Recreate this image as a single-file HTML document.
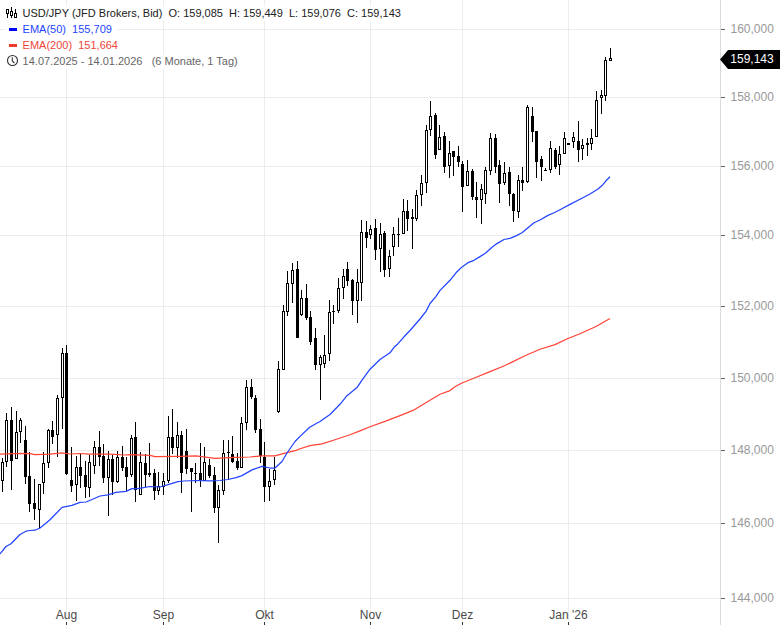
<!DOCTYPE html>
<html><head><meta charset="utf-8">
<style>
html,body{margin:0;padding:0;background:#fff;}
body{width:780px;height:625px;overflow:hidden;position:relative;font-family:"Liberation Sans",sans-serif;}
svg{position:absolute;left:0;top:0;}
.yl{font-size:12px;fill:#999;font-family:"Liberation Sans",sans-serif;}
.xl{font-size:12px;fill:#4a4a4a;font-family:"Liberation Sans",sans-serif;}
.pl{font-size:12px;fill:#fff;font-family:"Liberation Sans",sans-serif;}
.leg{position:absolute;left:5px;top:5px;font-size:11px;line-height:16px;}
.row{display:block;white-space:pre;background:rgba(255,255,255,0.85);float:left;clear:left;padding-left:17.6px;padding-right:6px;height:16px;}
.ic{display:inline-block;width:18px;height:16px;vertical-align:top;position:relative;}
.r1{color:#222;}
.r2{color:#2446ff;}
.r3{color:#f0463c;}
.r4{color:#666;}
</style></head>
<body>
<svg width="780" height="625" viewBox="0 0 780 625">
<rect x="0" y="29" width="720" height="1" fill="#ececec"/>
<rect x="0" y="97" width="720" height="1" fill="#ececec"/>
<rect x="0" y="166" width="720" height="1" fill="#ececec"/>
<rect x="0" y="235" width="720" height="1" fill="#ececec"/>
<rect x="0" y="306" width="720" height="1" fill="#ececec"/>
<rect x="0" y="378" width="720" height="1" fill="#ececec"/>
<rect x="0" y="450" width="720" height="1" fill="#ececec"/>
<rect x="0" y="523" width="720" height="1" fill="#ececec"/>
<rect x="0" y="598" width="720" height="1" fill="#ececec"/>
<rect x="66" y="0" width="1" height="621" fill="#ececec"/>
<rect x="163" y="0" width="1" height="621" fill="#ececec"/>
<rect x="264" y="0" width="1" height="621" fill="#ececec"/>
<rect x="370" y="0" width="1" height="621" fill="#ececec"/>
<rect x="462" y="0" width="1" height="621" fill="#ececec"/>
<rect x="568" y="0" width="1" height="621" fill="#ececec"/>
<rect x="720" y="0" width="1" height="625" fill="#dcdcdc"/>
<rect x="721" y="29" width="4" height="1" fill="#666"/>
<text x="730.5" y="33.3" class="yl">160,000</text>
<rect x="721" y="97" width="4" height="1" fill="#666"/>
<text x="730.5" y="101.3" class="yl">158,000</text>
<rect x="721" y="166" width="4" height="1" fill="#666"/>
<text x="730.5" y="170.3" class="yl">156,000</text>
<rect x="721" y="235" width="4" height="1" fill="#666"/>
<text x="730.5" y="239.3" class="yl">154,000</text>
<rect x="721" y="306" width="4" height="1" fill="#666"/>
<text x="730.5" y="310.3" class="yl">152,000</text>
<rect x="721" y="378" width="4" height="1" fill="#666"/>
<text x="730.5" y="382.3" class="yl">150,000</text>
<rect x="721" y="450" width="4" height="1" fill="#666"/>
<text x="730.5" y="454.3" class="yl">148,000</text>
<rect x="721" y="523" width="4" height="1" fill="#666"/>
<text x="730.5" y="527.3" class="yl">146,000</text>
<rect x="721" y="598" width="4" height="1" fill="#666"/>
<text x="730.5" y="602.3" class="yl">144,000</text>
<rect x="66" y="622" width="1" height="3" fill="#333"/>
<text x="66.5" y="619" class="xl" text-anchor="middle">Aug</text>
<rect x="163" y="622" width="1" height="3" fill="#333"/>
<text x="163.5" y="619" class="xl" text-anchor="middle">Sep</text>
<rect x="264" y="622" width="1" height="3" fill="#333"/>
<text x="264.5" y="619" class="xl" text-anchor="middle">Okt</text>
<rect x="370" y="622" width="1" height="3" fill="#333"/>
<text x="370.5" y="619" class="xl" text-anchor="middle">Nov</text>
<rect x="462" y="622" width="1" height="3" fill="#333"/>
<text x="462.5" y="619" class="xl" text-anchor="middle">Dez</text>
<rect x="568" y="622" width="1" height="3" fill="#333"/>
<text x="568.5" y="619" class="xl" text-anchor="middle">Jan '26</text>
<g fill="#000" shape-rendering="crispEdges"><rect x="2" y="458" width="1" height="34"/><rect x="1" y="462" width="3" height="19"/><rect x="2" y="463" width="1" height="17" fill="#fff"/><rect x="6" y="413" width="1" height="54"/><rect x="5" y="420" width="3" height="42"/><rect x="6" y="421" width="1" height="40" fill="#fff"/><rect x="11" y="407" width="1" height="83"/><rect x="10" y="420" width="3" height="41"/><rect x="16" y="411" width="1" height="48"/><rect x="15" y="432" width="3" height="27"/><rect x="16" y="433" width="1" height="25" fill="#fff"/><rect x="20" y="418" width="1" height="25"/><rect x="19" y="420" width="3" height="12"/><rect x="20" y="421" width="1" height="10" fill="#fff"/><rect x="25" y="426" width="1" height="58"/><rect x="24" y="440" width="3" height="37"/><rect x="29" y="452" width="1" height="60"/><rect x="28" y="476" width="3" height="28"/><rect x="34" y="479" width="1" height="41"/><rect x="33" y="503" width="3" height="6"/><rect x="39" y="484" width="1" height="44"/><rect x="38" y="484" width="3" height="26"/><rect x="39" y="485" width="1" height="24" fill="#fff"/><rect x="43" y="452" width="1" height="42"/><rect x="42" y="463" width="3" height="20"/><rect x="43" y="464" width="1" height="18" fill="#fff"/><rect x="48" y="429" width="1" height="39"/><rect x="47" y="430" width="3" height="33"/><rect x="48" y="431" width="1" height="31" fill="#fff"/><rect x="52" y="421" width="1" height="23"/><rect x="51" y="430" width="3" height="7"/><rect x="57" y="395" width="1" height="62"/><rect x="56" y="398" width="3" height="37"/><rect x="57" y="399" width="1" height="35" fill="#fff"/><rect x="62" y="348" width="1" height="81"/><rect x="61" y="353" width="3" height="45"/><rect x="62" y="354" width="1" height="43" fill="#fff"/><rect x="66" y="345" width="1" height="130"/><rect x="65" y="353" width="3" height="121"/><rect x="71" y="447" width="1" height="45"/><rect x="70" y="480" width="3" height="6"/><rect x="76" y="456" width="1" height="45"/><rect x="75" y="467" width="3" height="18"/><rect x="76" y="468" width="1" height="16" fill="#fff"/><rect x="80" y="454" width="1" height="34"/><rect x="79" y="467" width="3" height="9"/><rect x="85" y="461" width="1" height="37"/><rect x="84" y="475" width="3" height="12"/><rect x="89" y="455" width="1" height="42"/><rect x="88" y="462" width="3" height="26"/><rect x="89" y="463" width="1" height="24" fill="#fff"/><rect x="94" y="441" width="1" height="33"/><rect x="93" y="447" width="3" height="19"/><rect x="94" y="448" width="1" height="17" fill="#fff"/><rect x="99" y="431" width="1" height="35"/><rect x="98" y="447" width="3" height="10"/><rect x="103" y="444" width="1" height="39"/><rect x="102" y="456" width="3" height="22"/><rect x="108" y="451" width="1" height="65"/><rect x="107" y="459" width="3" height="19"/><rect x="108" y="460" width="1" height="17" fill="#fff"/><rect x="112" y="455" width="1" height="40"/><rect x="111" y="459" width="3" height="23"/><rect x="117" y="451" width="1" height="32"/><rect x="116" y="457" width="3" height="25"/><rect x="117" y="458" width="1" height="23" fill="#fff"/><rect x="122" y="446" width="1" height="25"/><rect x="121" y="457" width="3" height="11"/><rect x="126" y="457" width="1" height="34"/><rect x="125" y="467" width="3" height="10"/><rect x="131" y="435" width="1" height="42"/><rect x="130" y="438" width="3" height="37"/><rect x="131" y="439" width="1" height="35" fill="#fff"/><rect x="135" y="422" width="1" height="80"/><rect x="134" y="437" width="3" height="53"/><rect x="140" y="452" width="1" height="43"/><rect x="139" y="462" width="3" height="33"/><rect x="140" y="463" width="1" height="31" fill="#fff"/><rect x="145" y="454" width="1" height="33"/><rect x="144" y="463" width="3" height="12"/><rect x="149" y="443" width="1" height="34"/><rect x="148" y="473" width="3" height="2"/><rect x="154" y="469" width="1" height="31"/><rect x="153" y="473" width="3" height="18"/><rect x="158" y="472" width="1" height="23"/><rect x="157" y="486" width="3" height="5"/><rect x="158" y="487" width="1" height="3" fill="#fff"/><rect x="163" y="473" width="1" height="22"/><rect x="162" y="481" width="3" height="6"/><rect x="163" y="482" width="1" height="4" fill="#fff"/><rect x="168" y="416" width="1" height="67"/><rect x="167" y="437" width="3" height="44"/><rect x="168" y="438" width="1" height="42" fill="#fff"/><rect x="172" y="409" width="1" height="45"/><rect x="171" y="437" width="3" height="11"/><rect x="177" y="422" width="1" height="36"/><rect x="176" y="435" width="3" height="13"/><rect x="177" y="436" width="1" height="11" fill="#fff"/><rect x="181" y="431" width="1" height="62"/><rect x="180" y="435" width="3" height="38"/><rect x="186" y="429" width="1" height="45"/><rect x="185" y="451" width="3" height="18"/><rect x="191" y="468" width="1" height="44"/><rect x="190" y="468" width="3" height="4"/><rect x="195" y="463" width="1" height="20"/><rect x="194" y="473" width="3" height="1"/><rect x="200" y="443" width="1" height="44"/><rect x="199" y="473" width="3" height="7"/><rect x="204" y="447" width="1" height="34"/><rect x="203" y="462" width="3" height="19"/><rect x="204" y="463" width="1" height="17" fill="#fff"/><rect x="209" y="459" width="1" height="19"/><rect x="208" y="465" width="3" height="11"/><rect x="214" y="467" width="1" height="46"/><rect x="213" y="475" width="3" height="33"/><rect x="218" y="485" width="1" height="58"/><rect x="217" y="490" width="3" height="18"/><rect x="218" y="491" width="1" height="16" fill="#fff"/><rect x="223" y="440" width="1" height="55"/><rect x="222" y="453" width="3" height="38"/><rect x="223" y="454" width="1" height="36" fill="#fff"/><rect x="228" y="440" width="1" height="40"/><rect x="227" y="452" width="3" height="1"/><rect x="232" y="436" width="1" height="27"/><rect x="231" y="454" width="3" height="8"/><rect x="237" y="453" width="1" height="17"/><rect x="236" y="461" width="3" height="7"/><rect x="241" y="417" width="1" height="51"/><rect x="240" y="423" width="3" height="45"/><rect x="241" y="424" width="1" height="43" fill="#fff"/><rect x="246" y="380" width="1" height="50"/><rect x="245" y="387" width="3" height="36"/><rect x="246" y="388" width="1" height="34" fill="#fff"/><rect x="251" y="379" width="1" height="20"/><rect x="250" y="387" width="3" height="10"/><rect x="255" y="395" width="1" height="38"/><rect x="254" y="398" width="3" height="32"/><rect x="260" y="419" width="1" height="44"/><rect x="259" y="429" width="3" height="27"/><rect x="264" y="442" width="1" height="60"/><rect x="263" y="457" width="3" height="30"/><rect x="269" y="469" width="1" height="32"/><rect x="268" y="481" width="3" height="6"/><rect x="269" y="482" width="1" height="4" fill="#fff"/><rect x="274" y="457" width="1" height="28"/><rect x="273" y="470" width="3" height="10"/><rect x="274" y="471" width="1" height="8" fill="#fff"/><rect x="278" y="361" width="1" height="52"/><rect x="277" y="369" width="3" height="43"/><rect x="278" y="370" width="1" height="41" fill="#fff"/><rect x="283" y="305" width="1" height="65"/><rect x="282" y="311" width="3" height="59"/><rect x="283" y="312" width="1" height="57" fill="#fff"/><rect x="287" y="271" width="1" height="45"/><rect x="286" y="283" width="3" height="29"/><rect x="287" y="284" width="1" height="27" fill="#fff"/><rect x="292" y="263" width="1" height="40"/><rect x="291" y="270" width="3" height="14"/><rect x="292" y="271" width="1" height="12" fill="#fff"/><rect x="297" y="261" width="1" height="77"/><rect x="296" y="269" width="3" height="69"/><rect x="301" y="290" width="1" height="26"/><rect x="300" y="298" width="3" height="17"/><rect x="301" y="299" width="1" height="15" fill="#fff"/><rect x="306" y="284" width="1" height="36"/><rect x="305" y="298" width="3" height="20"/><rect x="310" y="311" width="1" height="34"/><rect x="309" y="317" width="3" height="25"/><rect x="315" y="328" width="1" height="42"/><rect x="314" y="338" width="3" height="27"/><rect x="320" y="355" width="1" height="45"/><rect x="319" y="357" width="3" height="8"/><rect x="320" y="358" width="1" height="6" fill="#fff"/><rect x="324" y="335" width="1" height="33"/><rect x="323" y="355" width="3" height="9"/><rect x="324" y="356" width="1" height="7" fill="#fff"/><rect x="329" y="300" width="1" height="61"/><rect x="328" y="312" width="3" height="42"/><rect x="329" y="313" width="1" height="40" fill="#fff"/><rect x="333" y="305" width="1" height="19"/><rect x="332" y="311" width="3" height="1"/><rect x="338" y="278" width="1" height="35"/><rect x="337" y="288" width="3" height="23"/><rect x="338" y="289" width="1" height="21" fill="#fff"/><rect x="343" y="269" width="1" height="30"/><rect x="342" y="276" width="3" height="12"/><rect x="343" y="277" width="1" height="10" fill="#fff"/><rect x="347" y="262" width="1" height="24"/><rect x="346" y="269" width="3" height="12"/><rect x="352" y="279" width="1" height="36"/><rect x="351" y="280" width="3" height="21"/><rect x="357" y="269" width="1" height="54"/><rect x="356" y="282" width="3" height="19"/><rect x="357" y="283" width="1" height="17" fill="#fff"/><rect x="361" y="220" width="1" height="81"/><rect x="360" y="232" width="3" height="51"/><rect x="361" y="233" width="1" height="49" fill="#fff"/><rect x="366" y="221" width="1" height="27"/><rect x="365" y="232" width="3" height="6"/><rect x="370" y="225" width="1" height="14"/><rect x="369" y="229" width="3" height="6"/><rect x="370" y="230" width="1" height="4" fill="#fff"/><rect x="375" y="219" width="1" height="41"/><rect x="374" y="228" width="3" height="22"/><rect x="380" y="223" width="1" height="49"/><rect x="379" y="234" width="3" height="15"/><rect x="380" y="235" width="1" height="13" fill="#fff"/><rect x="384" y="231" width="1" height="46"/><rect x="383" y="233" width="3" height="37"/><rect x="389" y="250" width="1" height="27"/><rect x="388" y="256" width="3" height="13"/><rect x="389" y="257" width="1" height="11" fill="#fff"/><rect x="393" y="227" width="1" height="29"/><rect x="392" y="234" width="3" height="13"/><rect x="393" y="235" width="1" height="11" fill="#fff"/><rect x="398" y="218" width="1" height="29"/><rect x="397" y="234" width="3" height="1"/><rect x="403" y="199" width="1" height="35"/><rect x="402" y="211" width="3" height="23"/><rect x="403" y="212" width="1" height="21" fill="#fff"/><rect x="407" y="200" width="1" height="31"/><rect x="406" y="211" width="3" height="8"/><rect x="412" y="209" width="1" height="40"/><rect x="411" y="217" width="3" height="2"/><rect x="416" y="190" width="1" height="31"/><rect x="415" y="195" width="3" height="24"/><rect x="416" y="196" width="1" height="22" fill="#fff"/><rect x="421" y="175" width="1" height="31"/><rect x="420" y="183" width="3" height="12"/><rect x="421" y="184" width="1" height="10" fill="#fff"/><rect x="426" y="125" width="1" height="68"/><rect x="425" y="130" width="3" height="53"/><rect x="426" y="131" width="1" height="51" fill="#fff"/><rect x="430" y="101" width="1" height="35"/><rect x="429" y="116" width="3" height="14"/><rect x="430" y="117" width="1" height="12" fill="#fff"/><rect x="435" y="113" width="1" height="46"/><rect x="434" y="115" width="3" height="40"/><rect x="439" y="125" width="1" height="25"/><rect x="438" y="137" width="3" height="13"/><rect x="439" y="138" width="1" height="11" fill="#fff"/><rect x="444" y="132" width="1" height="41"/><rect x="443" y="136" width="3" height="31"/><rect x="449" y="141" width="1" height="37"/><rect x="448" y="153" width="3" height="13"/><rect x="449" y="154" width="1" height="11" fill="#fff"/><rect x="453" y="151" width="1" height="25"/><rect x="452" y="151" width="3" height="6"/><rect x="458" y="146" width="1" height="21"/><rect x="457" y="156" width="3" height="6"/><rect x="462" y="161" width="1" height="51"/><rect x="461" y="164" width="3" height="23"/><rect x="467" y="160" width="1" height="26"/><rect x="466" y="171" width="3" height="15"/><rect x="467" y="172" width="1" height="13" fill="#fff"/><rect x="472" y="169" width="1" height="31"/><rect x="471" y="171" width="3" height="26"/><rect x="476" y="182" width="1" height="36"/><rect x="475" y="197" width="3" height="3"/><rect x="481" y="184" width="1" height="40"/><rect x="480" y="189" width="3" height="11"/><rect x="481" y="190" width="1" height="9" fill="#fff"/><rect x="485" y="167" width="1" height="37"/><rect x="484" y="170" width="3" height="24"/><rect x="485" y="171" width="1" height="22" fill="#fff"/><rect x="490" y="133" width="1" height="42"/><rect x="489" y="138" width="3" height="33"/><rect x="490" y="139" width="1" height="31" fill="#fff"/><rect x="495" y="134" width="1" height="39"/><rect x="494" y="138" width="3" height="29"/><rect x="499" y="160" width="1" height="43"/><rect x="498" y="165" width="3" height="19"/><rect x="504" y="162" width="1" height="23"/><rect x="503" y="173" width="3" height="10"/><rect x="504" y="174" width="1" height="8" fill="#fff"/><rect x="509" y="167" width="1" height="39"/><rect x="508" y="172" width="3" height="22"/><rect x="513" y="193" width="1" height="29"/><rect x="512" y="194" width="3" height="17"/><rect x="518" y="175" width="1" height="43"/><rect x="517" y="180" width="3" height="32"/><rect x="518" y="181" width="1" height="30" fill="#fff"/><rect x="522" y="167" width="1" height="24"/><rect x="521" y="180" width="3" height="3"/><rect x="527" y="105" width="1" height="78"/><rect x="526" y="107" width="3" height="75"/><rect x="527" y="108" width="1" height="73" fill="#fff"/><rect x="532" y="107" width="1" height="35"/><rect x="531" y="116" width="3" height="16"/><rect x="536" y="131" width="1" height="47"/><rect x="535" y="131" width="3" height="31"/><rect x="541" y="156" width="1" height="25"/><rect x="540" y="159" width="3" height="8"/><rect x="545" y="168" width="1" height="3"/><rect x="544" y="170" width="3" height="1"/><rect x="550" y="141" width="1" height="32"/><rect x="549" y="148" width="3" height="22"/><rect x="550" y="149" width="1" height="20" fill="#fff"/><rect x="555" y="148" width="1" height="21"/><rect x="554" y="150" width="3" height="17"/><rect x="559" y="146" width="1" height="29"/><rect x="558" y="154" width="3" height="11"/><rect x="559" y="155" width="1" height="9" fill="#fff"/><rect x="564" y="132" width="1" height="22"/><rect x="563" y="138" width="3" height="16"/><rect x="564" y="139" width="1" height="14" fill="#fff"/><rect x="568" y="143" width="1" height="2"/><rect x="567" y="143" width="3" height="2"/><rect x="573" y="132" width="1" height="16"/><rect x="572" y="137" width="3" height="5"/><rect x="573" y="138" width="1" height="3" fill="#fff"/><rect x="578" y="121" width="1" height="41"/><rect x="577" y="141" width="3" height="9"/><rect x="582" y="139" width="1" height="21"/><rect x="581" y="145" width="3" height="4"/><rect x="582" y="146" width="1" height="2" fill="#fff"/><rect x="587" y="138" width="1" height="18"/><rect x="586" y="143" width="3" height="2"/><rect x="591" y="129" width="1" height="21"/><rect x="590" y="138" width="3" height="6"/><rect x="591" y="139" width="1" height="4" fill="#fff"/><rect x="596" y="91" width="1" height="46"/><rect x="595" y="100" width="3" height="37"/><rect x="596" y="101" width="1" height="35" fill="#fff"/><rect x="601" y="90" width="1" height="24"/><rect x="600" y="95" width="3" height="3"/><rect x="601" y="96" width="1" height="1" fill="#fff"/><rect x="605" y="57" width="1" height="44"/><rect x="604" y="60" width="3" height="36"/><rect x="605" y="61" width="1" height="34" fill="#fff"/><rect x="610" y="48" width="1" height="13"/><rect x="609" y="58" width="3" height="3"/><rect x="610" y="59" width="1" height="1" fill="#fff"/></g>
<polyline points="0.0,454.2 20.0,453.3 30.0,453.7 35.0,454.7 50.0,454.2 62.0,452.8 70.0,454.0 80.0,453.5 90.0,454.2 110.0,454.2 125.0,455.0 130.0,454.7 150.0,455.3 155.0,456.7 180.0,456.3 196.0,455.8 215.0,458.3 235.0,457.4 250.0,457.0 262.0,455.8 275.0,455.8 285.0,453.2 296.0,450.4 300.0,448.8 310.0,445.6 322.0,443.9 335.0,439.7 350.0,434.8 360.0,430.9 370.0,426.8 385.0,421.4 400.0,415.6 413.0,410.4 425.0,403.3 440.0,394.2 450.0,390.6 455.0,386.8 462.0,383.0 475.0,377.8 490.0,371.6 505.0,365.5 510.0,363.1 525.0,355.7 540.0,349.2 555.0,344.6 568.0,338.5 580.0,333.8 596.0,326.5 610.0,318.5" fill="none" stroke="#ff4336" stroke-width="1.2" stroke-linejoin="round"/>
<polyline points="0.0,553.9 6.0,546.5 11.0,543.7 20.0,534.5 26.0,531.2 30.0,530.5 35.0,530.2 40.0,528.0 44.0,524.8 50.0,519.7 62.0,507.4 72.0,505.4 80.0,502.3 86.0,502.0 92.0,499.5 100.0,496.0 108.0,494.8 116.0,492.4 126.0,491.4 132.0,488.6 138.0,488.6 150.0,486.5 160.0,487.0 168.0,484.6 178.0,481.6 184.0,481.0 196.0,480.5 210.0,480.8 220.0,480.5 228.0,479.5 236.0,477.6 242.0,475.6 252.0,469.9 262.0,466.4 270.0,468.0 275.0,468.0 282.0,461.5 287.0,453.0 295.0,441.5 300.0,436.4 310.0,427.0 320.0,421.5 330.0,414.5 340.0,404.3 347.0,395.7 357.0,387.6 362.0,380.1 366.0,374.7 370.0,369.2 380.0,359.5 390.0,352.8 394.0,347.3 398.0,343.7 404.0,336.8 410.0,330.5 420.0,319.0 426.0,311.4 430.0,303.5 436.0,296.3 440.0,290.4 450.0,280.3 456.0,272.8 462.0,266.9 468.0,262.7 474.0,260.3 480.0,256.6 486.0,252.8 492.0,247.2 497.0,243.6 504.0,239.5 510.0,238.3 516.0,235.9 522.0,232.8 528.0,227.7 534.0,222.8 540.0,220.0 548.0,215.4 554.0,212.8 560.0,209.7 570.0,204.4 580.0,199.2 590.0,194.0 598.0,189.0 602.0,185.6 606.0,180.8 610.0,176.7" fill="none" stroke="#2244ff" stroke-width="1.25" stroke-linejoin="round"/>
<path d="M720,59.5 L728,50 L780,50 L780,69 L728,69 Z" fill="#000"/>
<text x="730.3" y="63.4" class="pl">159,143</text>
</svg>
<div class="leg">
<div class="row r1">USD/JPY (JFD Brokers, Bid)  O: 159,085  H: 159,449  L: 159,076  C: 159,143</div>
<div class="row r2">EMA(50)  155,709</div>
<div class="row r3">EMA(200)  151,664</div>
<div class="row r4">14.07.2025 - 14.01.2026   (6 Monate, 1 Tag)</div>
</div>
<svg width="780" height="80" viewBox="0 0 780 80" style="position:absolute;left:0;top:0" shape-rendering="crispEdges">
<g fill="#000">
<rect x="6" y="9" width="3" height="1"/><rect x="6" y="13" width="3" height="1"/><rect x="6" y="9" width="1" height="5"/><rect x="8" y="9" width="1" height="5"/><rect x="7" y="14" width="1" height="4"/>
<rect x="11" y="7" width="1" height="4"/><rect x="10" y="11" width="3" height="1"/><rect x="10" y="15" width="3" height="1"/><rect x="10" y="11" width="1" height="5"/><rect x="12" y="11" width="1" height="5"/><rect x="11" y="16" width="1" height="2"/>
<rect x="15" y="9" width="1" height="4"/><rect x="14" y="13" width="3" height="1"/><rect x="14" y="17" width="3" height="1"/><rect x="14" y="13" width="1" height="5"/><rect x="16" y="13" width="1" height="5"/>
</g>
<rect x="9" y="28" width="8" height="3" fill="#0000ff"/>
<rect x="9" y="44" width="8" height="3" fill="#f03a2e"/>
</svg>
<svg width="30" height="80" viewBox="0 0 30 80" style="position:absolute;left:0;top:0">
<circle cx="12.5" cy="60.5" r="5" fill="none" stroke="#333" stroke-width="1.1"/>
<path d="M12.3,57.3 L12.3,61 L14.5,63" fill="none" stroke="#333" stroke-width="1.1"/>
</svg>
</body></html>
